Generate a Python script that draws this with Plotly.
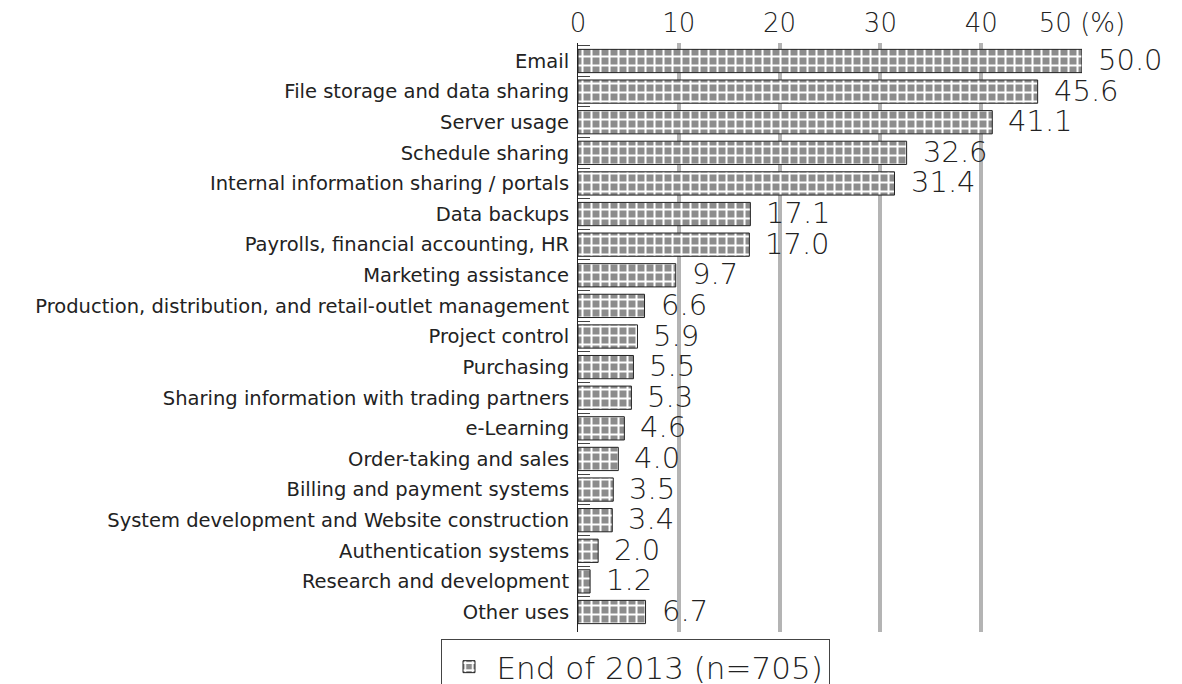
import plotly.graph_objects as go

categories = [
    "Email",
    "File storage and data sharing",
    "Server usage",
    "Schedule sharing",
    "Internal information sharing / portals",
    "Data backups",
    "Payrolls, financial accounting, HR",
    "Marketing assistance",
    "Production, distribution, and retail-outlet management",
    "Project control",
    "Purchasing",
    "Sharing information with trading partners",
    "e-Learning",
    "Order-taking and sales",
    "Billing and payment systems",
    "System development and Website construction",
    "Authentication systems",
    "Research and development",
    "Other uses",
]
values = [50.0, 45.6, 41.1, 32.6, 31.4, 17.1, 17.0, 9.7, 6.6, 5.9, 5.5, 5.3, 4.6, 4.0, 3.5, 3.4, 2.0, 1.2, 6.7]
series_name = "End of 2013 (n=705)"
x_ticks = [0, 10, 20, 30, 40, 50]
x_ticktext = ["0", "10", "20", "30", "40", "50 (%)"]
grid_vals = [10, 20, 30, 40]

LABEL_FONT = "DejaVu Sans"
NUM_FONT = "DejaVu Sans"

fig = go.Figure()
fig.add_trace(go.Bar(
    x=values, y=categories, orientation="h", name=series_name,
    marker=dict(
        color="white",
        line=dict(color="#222222", width=1),
        pattern=dict(shape="+", fgcolor="white", bgcolor="#8c8c8c",
                     size=9, solidity=0.4, fillmode="replace"),
    ),
    showlegend=True,
))

for c, v in zip(categories, values):
    fig.add_annotation(x=v, y=c, text=f"{v:.1f}", showarrow=False,
                       xanchor="left", xshift=14, yshift=1,
                       font=dict(family=NUM_FONT, size=29, color="#222222", weight=300))

fig.update_layout(
    width=1182, height=684,
    margin=dict(l=570, r=108, t=35, b=60, autoexpand=False),
    paper_bgcolor="white", plot_bgcolor="white",
    bargap=0.24,
    font=dict(family=LABEL_FONT, color="#222222"),
    showlegend=True,
    legend=dict(
        xref="container", yref="container",
        x=627 / 1182, xanchor="center", y=1 - 631 / 684, yanchor="top",
        bordercolor="#444444", borderwidth=1,
        font=dict(family=NUM_FONT, size=31, color="#222222", weight=300),
        orientation="h", itemwidth=45,
    ),
    xaxis=dict(
        side="top", range=[0, 50], tickvals=x_ticks, ticktext=x_ticktext,
        showgrid=False, zeroline=False, showline=False, ticks="",
        tickfont=dict(family=NUM_FONT, size=26, color="#222222", weight=300),
        minor=dict(tickvals=grid_vals, showgrid=True, gridcolor="#b4b4b4", gridwidth=4),
        automargin=False, fixedrange=True, ticklabelstandoff=5,
    ),
    yaxis=dict(
        autorange="reversed", type="category",
        showline=True, linecolor="#222222", linewidth=1,
        ticks="inside", tickson="boundaries", ticklen=12, tickcolor="#444444",
        tickfont=dict(family=LABEL_FONT, size=19.5, color="#222222"),
        showgrid=False, ticklabelstandoff=4, automargin=False,
    ),
)

fig.write_html("out.html")
